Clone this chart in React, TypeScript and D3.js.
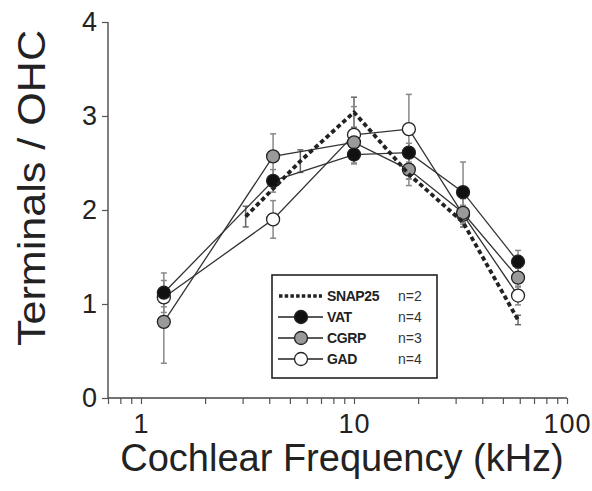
import React, { useEffect, useRef } from 'react';
import * as d3 from 'd3';

// Cochlear frequency (kHz) for the three immunostained series
const freqs = [1.28, 4.17, 10, 18.1, 32.5, 58.9];
const vat = [1.12, 2.31, 2.59, 2.61, 2.19, 1.45];
const vatErr = [0.21, 0.12, 0.1, 0.1, 0.32, 0.12];
const cgrp = [0.81, 2.57, 2.72, 2.43, 1.97, 1.28];
const cgrpErr = [0.44, 0.24, 0.1, 0.17, 0.15, 0.1];
const gad = [1.07, 1.9, 2.8, 2.86, 1.95, 1.09];
const gadErr = [0.1, 0.2, 0.3, 0.37, 0.1, 0.1];
// SNAP25 dashed curve
const snapFreqs = [3.1, 5.6, 10, 18.1, 32.5, 58.9];
const snap25 = [1.93, 2.52, 3.04, 2.38, 1.87, 0.83];
const snapErr = [0.11, 0.12, 0.16, 0.05, 0.05, 0.05];

const yTicks = [0, 1, 2, 3, 4];
const xTickLabels = [1, 10, 100];

const legendItems = [
  { name: 'SNAP25', n: 'n=2', fill: null },
  { name: 'VAT', n: 'n=4', fill: '#111' },
  { name: 'CGRP', n: 'n=3', fill: '#9a9a9a' },
  { name: 'GAD', n: 'n=4', fill: '#fff' },
];

const App = () => {
  const svgRef = useRef<SVGSVGElement>(null);

  useEffect(() => {
    if (!svgRef.current) return;
    d3.select(svgRef.current).selectAll('*').remove();

    const svg = d3.select(svgRef.current);
    const font = 'Liberation Sans, Arial, Helvetica, sans-serif';

    const x = d3.scaleLog().domain([0.7, 100]).range([108, 567]);
    const y = d3.scaleLinear().domain([0, 4]).range([398, 22]);

    // y axis
    const yAxis = svg.append('g')
      .attr('transform', 'translate(108,0)')
      .call(d3.axisLeft(y).tickValues(yTicks).tickSize(6).tickPadding(5).tickFormat(d3.format('d')));
    yAxis.selectAll('text').style('font-family', font).style('font-size', '27px').attr('fill', '#222');
    yAxis.select('.domain').attr('stroke', '#555').attr('stroke-width', 1.5).attr('d', 'M0,22V398');
    yAxis.selectAll('line').attr('stroke', '#555').attr('stroke-width', 1.2);

    // x axis: minor ticks
    const minor = d3.range(-1, 2).flatMap(e => d3.range(1, 10).map(m => m * Math.pow(10, e)))
      .filter(v => v >= 0.7 && v <= 100);
    minor.push(100);
    const xAxis = svg.append('g')
      .attr('transform', 'translate(0,398)')
      .call(d3.axisBottom(x).tickValues(minor).tickSize(6)
        .tickFormat(d => (xTickLabels.includes(+d) ? String(d) : '')));
    xAxis.select('.domain').attr('stroke', '#444').attr('stroke-width', 1.6).attr('d', 'M108,0H567');
    xAxis.selectAll('line').attr('stroke', '#555').attr('stroke-width', 1.2);
    xAxis.selectAll('text')
      .style('font-family', font).style('font-size', '27px').style('letter-spacing', '1px')
      .attr('fill', '#222').attr('dy', '0.95em');

    // axis titles
    svg.append('text')
      .attr('x', 342).attr('y', 471)
      .attr('text-anchor', 'middle')
      .style('font-family', font).style('font-size', '38px').attr('fill', '#222')
      .text('Cochlear Frequency (kHz)');
    svg.append('text')
      .attr('transform', 'translate(45,188) rotate(-90)')
      .attr('text-anchor', 'middle')
      .attr('textLength', 316).attr('lengthAdjust', 'spacingAndGlyphs')
      .style('font-family', font).style('font-size', '38px').attr('fill', '#222')
      .text('Terminals / OHC');

    const series = [
      { xs: freqs, ys: gad, err: gadErr, fill: '#fff' },
      { xs: freqs, ys: cgrp, err: cgrpErr, fill: '#9a9a9a' },
      { xs: freqs, ys: vat, err: vatErr, fill: '#111' },
    ];

    // error bars
    const errG = svg.append('g');
    const drawErr = (xs: number[], ys: number[], err: number[], color: string) => {
      xs.forEach((f, i) => {
        const cx = x(f);
        errG.append('line').attr('x1', cx).attr('x2', cx)
          .attr('y1', y(ys[i] - err[i])).attr('y2', y(ys[i] + err[i]))
          .attr('stroke', color).attr('stroke-width', 1.5);
        [ys[i] - err[i], ys[i] + err[i]].forEach(v => {
          errG.append('line').attr('x1', cx - 3).attr('x2', cx + 3)
            .attr('y1', y(v)).attr('y2', y(v))
            .attr('stroke', color).attr('stroke-width', 1.5);
        });
      });
    };
    drawErr(snapFreqs, snap25, snapErr, '#666');
    series.forEach(s => drawErr(s.xs, s.ys, s.err, '#888'));

    // connecting lines
    const pathOf = d3.line<[number, number]>().x(d => x(d[0])).y(d => y(d[1]));
    series.forEach(s => {
      svg.append('path')
        .attr('d', pathOf(s.xs.map((f, i) => [f, s.ys[i]]) as [number, number][]))
        .attr('fill', 'none').attr('stroke', '#333').attr('stroke-width', 1.3);
    });

    // markers
    series.forEach(s => {
      svg.append('g').selectAll('circle')
        .data(s.xs.map((f, i) => [f, s.ys[i]]))
        .enter().append('circle')
        .attr('cx', d => x(d[0])).attr('cy', d => y(d[1])).attr('r', 6.5)
        .attr('fill', s.fill).attr('stroke', '#222').attr('stroke-width', 1.3);
    });

    // SNAP25 dashed line
    svg.append('path')
      .attr('d', pathOf(snapFreqs.map((f, i) => [f, snap25[i]]) as [number, number][]))
      .attr('fill', 'none').attr('stroke', '#222').attr('stroke-width', 3.8)
      .attr('stroke-linejoin', 'round')
      .attr('stroke-dasharray', '4.5,3');

    // legend
    const lg = svg.append('g');
    lg.append('rect').attr('x', 272).attr('y', 275).attr('width', 165).attr('height', 103)
      .attr('fill', '#fff').attr('stroke', '#222').attr('stroke-width', 1.6);
    legendItems.forEach((item, i) => {
      const ly = 296 + i * 21;
      if (item.fill === null) {
        lg.append('line').attr('x1', 279).attr('x2', 322).attr('y1', ly).attr('y2', ly)
          .attr('stroke', '#222').attr('stroke-width', 3.5).attr('stroke-dasharray', '3.5,2.2');
      } else {
        lg.append('line').attr('x1', 278).attr('x2', 323).attr('y1', ly).attr('y2', ly)
          .attr('stroke', '#222').attr('stroke-width', 1.4);
        lg.append('circle').attr('cx', 301).attr('cy', ly).attr('r', 6.5)
          .attr('fill', item.fill).attr('stroke', '#222').attr('stroke-width', 1.3);
      }
      lg.append('text').attr('x', 327).attr('y', ly + 5)
        .style('font-family', font).style('font-size', '14px').style('font-weight', 'bold')
        .style('letter-spacing', '-0.4px').attr('fill', '#222')
        .text(item.name);
      lg.append('text').attr('x', 398).attr('y', ly + 5)
        .style('font-family', font).style('font-size', '14px').attr('fill', '#333')
        .text(item.n);
    });
  }, []);

  return (
    <svg
      ref={svgRef}
      width={592}
      height={491}
      style={{ position: 'absolute', left: 0, top: 0, background: '#fff' }}
    />
  );
};

export default App;
